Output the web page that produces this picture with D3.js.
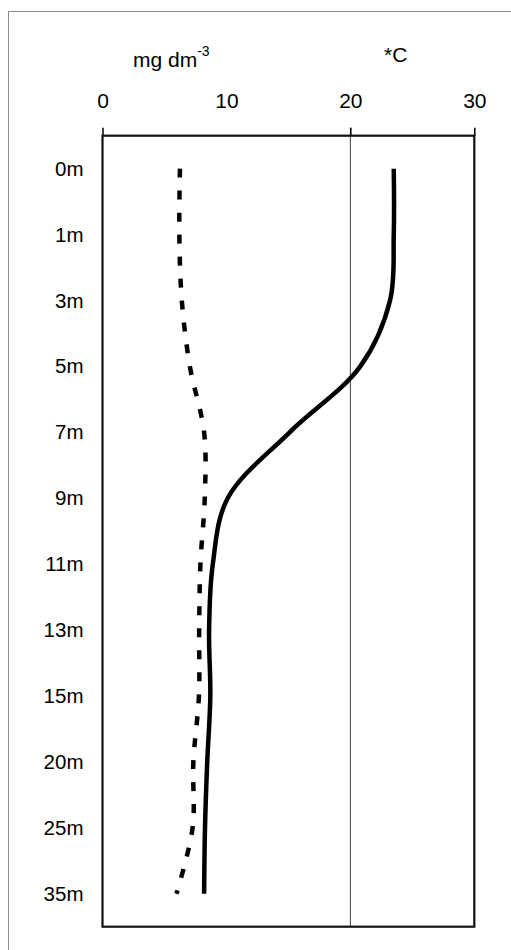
<!DOCTYPE html>
<html>
<head>
<meta charset="utf-8">
<script src="https://cdn.jsdelivr.net/npm/d3@7"></script>
<style>
  html, body { margin: 0; padding: 0; background: #fff; }
  svg { display: block; }
  text { font-family: "Liberation Sans", Arial, sans-serif; fill: #000; }
</style>
</head>
<body>
<svg id="chart" width="511" height="950"></svg>
<script>
// Depth levels (rows) and the two measured profiles
const depths = ["0m", "1m", "3m", "5m", "7m", "9m", "11m", "13m", "15m", "20m", "25m", "35m"];
const temperature = [23.5, 23.5, 23.2, 20.8, 15.1, 10.1, 8.9, 8.6, 8.7, 8.45, 8.27, 8.2];     // *C
const oxygen = [6.25, 6.2, 6.4, 7.05, 8.2, 8.25, 7.9, 7.8, 7.78, 7.33, 7.27, 5.97];          // mg dm-3
const xTicks = [0, 10, 20, 30];
const gridValues = [20];

const svg = d3.select("#chart");
const plot = { left: 102.5, right: 474.3, top: 135.7, bottom: 926.7 };
const FONT = "Liberation Sans, Arial, sans-serif";

const x = d3.scaleLinear().domain([0, 30]).range([plot.left, plot.right]);
const y = d3.scalePoint().domain(depths).range([plot.top, plot.bottom]).padding(0.5);

// outer frame
svg.append("rect")
  .attr("x", 8.5).attr("y", 11.5).attr("width", 520).attr("height", 960)
  .attr("fill", "none").attr("stroke", "#8c8c8c").attr("stroke-width", 1);

// vertical gridline
svg.selectAll("line.grid").data(gridValues).join("line")
  .attr("class", "grid")
  .attr("x1", d => x(d)).attr("x2", d => x(d))
  .attr("y1", plot.top - 8).attr("y2", plot.bottom)
  .attr("stroke", "#444").attr("stroke-width", 1);

// top value axis
const xAxis = svg.append("g")
  .attr("transform", `translate(0,${plot.top})`)
  .call(d3.axisTop(x).tickValues(xTicks).tickSize(8).tickPadding(20).tickFormat(d3.format("d")));
xAxis.select(".domain").remove();
xAxis.selectAll(".tick line").attr("stroke", "#000").attr("stroke-width", 1.5)
  .attr("opacity", d => d === 10 ? 0 : 1);
xAxis.selectAll(".tick text")
  .attr("font-size", 21).attr("font-family", FONT)
  .attr("fill", "#000").attr("dy", "0");

// plot frame
svg.append("rect")
  .attr("x", plot.left).attr("y", plot.top)
  .attr("width", plot.right - plot.left).attr("height", plot.bottom - plot.top)
  .attr("fill", "none").attr("stroke", "#111").attr("stroke-width", 2.2);

// depth labels
const yAxis = svg.append("g")
  .attr("transform", `translate(${plot.left},0)`)
  .call(d3.axisLeft(y).tickSize(0).tickPadding(19));
yAxis.select(".domain").remove();
yAxis.selectAll(".tick text")
  .attr("font-size", 20.5).attr("font-family", FONT)
  .attr("fill", "#000");

// unit titles
const unit = svg.append("text").attr("x", 133).attr("y", 67).attr("font-size", 21).attr("font-family", FONT);
unit.append("tspan").text("mg dm");
unit.append("tspan").attr("dy", -11).attr("font-size", 14).text("-3");
svg.append("text").attr("x", 384).attr("y", 62).attr("font-size", 21).attr("font-family", FONT).text("*C");

// profiles
const line = d3.line()
  .x(d => x(d.v))
  .y(d => y(d.depth))
  .curve(d3.curveCatmullRom.alpha(0.5));

const tempData = depths.map((depth, i) => ({ depth, v: temperature[i] }));
const oxyData = depths.map((depth, i) => ({ depth, v: oxygen[i] }));

svg.append("path").datum(oxyData)
  .attr("d", line)
  .attr("fill", "none").attr("stroke", "#000").attr("stroke-width", 4.5)
  .attr("stroke-dasharray", "9,13");

svg.append("path").datum(tempData)
  .attr("d", line)
  .attr("fill", "none").attr("stroke", "#000").attr("stroke-width", 4.5);
</script>
</body>
</html>
